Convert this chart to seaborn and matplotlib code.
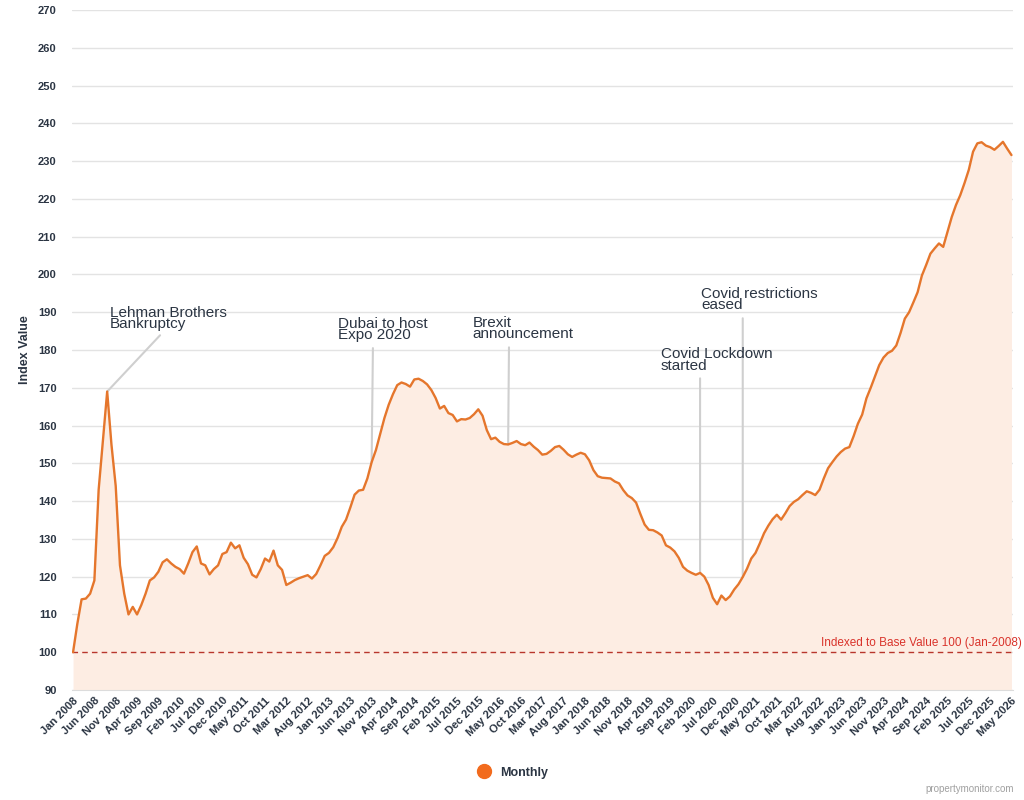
import pandas as pd
import numpy as np
import matplotlib.pyplot as plt
import seaborn as sns
from matplotlib.lines import Line2D

# monthly index, month 0 = Jan 2008 ... month 220 = May 2026
index_values = [
    100, 107.5, 114, 114.2, 115.5, 119, 143, 156, 169, 155, 144, 123,                   # 2008
    115.5, 110, 112, 110, 112.5, 115.5, 119, 119.8, 121.3, 123.8, 124.6, 123.5,         # 2009
    122.6, 122, 120.8, 123.5, 126.5, 128, 123.5, 123, 120.6, 122, 123, 126,             # 2010
    126.5, 129, 127.5, 128.3, 125, 123.3, 120.5, 119.8, 122, 124.8, 124, 126.9,         # 2011
    123, 121.8, 117.8, 118.4, 119.1, 119.6, 120, 120.4, 119.5, 120.7, 123, 125.5,       # 2012
    126.3, 127.8, 130.2, 133.2, 135.1, 138.3, 141.7, 142.8, 143, 146, 150.3, 153.5,     # 2013
    157.7, 162, 165.5, 168.3, 170.7, 171.4, 171, 170.3, 172.2, 172.4, 171.8, 170.9,     # 2014
    169.4, 167.3, 164.5, 165.2, 163.3, 162.8, 161.1, 161.7, 161.6, 162, 163, 164.3,     # 2015
    162.6, 158.8, 156.4, 156.8, 155.7, 155.1, 155, 155.4, 155.9, 155.1, 154.8, 155.5,   # 2016
    154.4, 153.5, 152.3, 152.5, 153.3, 154.3, 154.6, 153.6, 152.4, 151.7, 152.3, 152.8, # 2017
    152.4, 150.8, 148.2, 146.6, 146.2, 146.1, 146, 145.2, 144.7, 142.9, 141.5, 140.8,   # 2018
    139.6, 136.6, 133.8, 132.4, 132.3, 131.7, 130.9, 128.3, 127.7, 126.7, 125, 122.6,   # 2019
    121.6, 121, 120.5, 121, 120, 117.8, 114.4, 112.7, 115, 113.8, 114.8, 116.6,         # 2020
    118, 119.9, 122.1, 124.8, 126.3, 128.8, 131.5, 133.5, 135.2, 136.4, 135.1, 136.8,   # 2021
    138.7, 139.8, 140.5, 141.6, 142.6, 142.2, 141.6, 143, 146, 148.7, 150.3, 151.8,     # 2022
    153, 153.9, 154.3, 157.2, 160.5, 162.9, 167.2, 170, 173, 176, 178, 179.2,           # 2023
    179.8, 181.2, 184.5, 188.3, 190, 192.6, 195.3, 199.7, 202.5, 205.5, 206.9, 208.2,   # 2024
    207.3, 211.3, 215.2, 218.4, 221, 224.2, 227.7, 232.5, 234.7, 235, 234.1, 233.7,     # 2025
    233, 234, 235.1, 233.3, 231.6,                                                      # 2026
]

tick_labels = [
    'Jan 2008', 'Jun 2008', 'Nov 2008', 'Apr 2009', 'Sep 2009', 'Feb 2010', 'Jul 2010',
    'Dec 2010', 'May 2011', 'Oct 2011', 'Mar 2012', 'Aug 2012', 'Jan 2013', 'Jun 2013',
    'Nov 2013', 'Apr 2014', 'Sep 2014', 'Feb 2015', 'Jul 2015', 'Dec 2015', 'May 2016',
    'Oct 2016', 'Mar 2017', 'Aug 2017', 'Jan 2018', 'Jun 2018', 'Nov 2018', 'Apr 2019',
    'Sep 2019', 'Feb 2020', 'Jul 2020', 'Dec 2020', 'May 2021', 'Oct 2021', 'Mar 2022',
    'Aug 2022', 'Jan 2023', 'Jun 2023', 'Nov 2023', 'Apr 2024', 'Sep 2024', 'Feb 2025',
    'Jul 2025', 'Dec 2025', 'May 2026',
]

event_labels = ['Lehman Brothers\nBankruptcy', 'Dubai to host\nExpo 2020',
                'Brexit\nannouncement', 'Covid Lockdown\nstarted',
                'Covid restrictions\neased']
event_months = [8, 70, 102, 147, 157]

base_value = 100
base_label = 'Indexed to Base Value 100 (Jan-2008)'

df = pd.DataFrame({'month': np.arange(len(index_values)), 'value': index_values})

sns.set_style('white')
plt.rcParams['font.family'] = ['Liberation Sans', 'DejaVu Sans']

line_color = '#e5762c'
text_color = '#2b3543'

fig = plt.figure(figsize=(10.24, 8), dpi=100)
ax = fig.add_axes([0.0703, 0.1375, 0.9187, 0.85])

ax.fill_between(df['month'], df['value'], 90, color='#fdede3', lw=0, zorder=1)
sns.lineplot(data=df, x='month', y='value', color=line_color, lw=1.7, ax=ax, zorder=3)

# base line
ax.axhline(base_value, color='#b8362c', ls='--', lw=1, dashes=(4, 3), zorder=2)
ax.text(222.4, base_value + 0.8, base_label, color='#d9332b', fontsize=8.5,
        ha='right', va='bottom', clip_on=False)

# event annotations: (connector top month, connector top value, text month, text top value)
event_layout = [(20.4, 183.9, 8.7, 191.7),
                (70.3, 180.5, 62.1, 188.8),
                (102.2, 180.7, 93.7, 189.1),
                (147.0, 172.5, 137.8, 180.8),
                (157.0, 188.4, 147.2, 196.7)]
for lab, m, (cx, cy, tx, ty) in zip(event_labels, event_months, event_layout):
    ax.annotate('', xy=(m, index_values[m]), xytext=(cx, cy),
                arrowprops=dict(arrowstyle='-', color='#cfcfcf', lw=1.5,
                                shrinkA=0, shrinkB=0), zorder=2)
    ax.text(tx, ty, lab, fontsize=11, color=text_color, ha='left', va='top',
            linespacing=0.78, zorder=4)

ax.set_xlim(-0.25, 220.3)
ax.set_ylim(90, 270)
ax.set_yticks(np.arange(90, 271, 10))
ax.set_xticks(np.arange(0, len(index_values), 5))
ax.set_xticklabels(tick_labels, rotation=45, ha='right', rotation_mode='anchor',
                   fontsize=8, fontweight='bold', color=text_color)
for t in ax.get_yticklabels():
    t.set_fontsize(8)
    t.set_fontweight('bold')
    t.set_color(text_color)
ax.tick_params(axis='both', length=0)
ax.tick_params(axis='x', pad=4)
ax.tick_params(axis='y', pad=11)

ax.grid(axis='y', color='#e3e3e3', lw=1)
ax.set_axisbelow(True)
for s in ['top', 'right', 'left']:
    ax.spines[s].set_visible(False)
ax.spines['bottom'].set_color('#dcdcdc')

ax.set_xlabel('')
ax.set_ylabel('Index Value', fontsize=9, fontweight='bold', color=text_color, labelpad=5)

handle = Line2D([], [], marker='o', color='none', markerfacecolor='#f26b1d',
                markeredgecolor='#f26b1d', markersize=10)
fig.legend([handle], ['Monthly'], loc='center', bbox_to_anchor=(0.498, 0.034),
           frameon=False, handletextpad=0.3,
           prop={'size': 9, 'weight': 'bold'}, labelcolor=text_color)

fig.text(0.99, 0.008, 'propertymonitor.com', fontsize=7, color='#a0a0a0', ha='right', va='bottom')

plt.savefig('out.png', dpi=100)
